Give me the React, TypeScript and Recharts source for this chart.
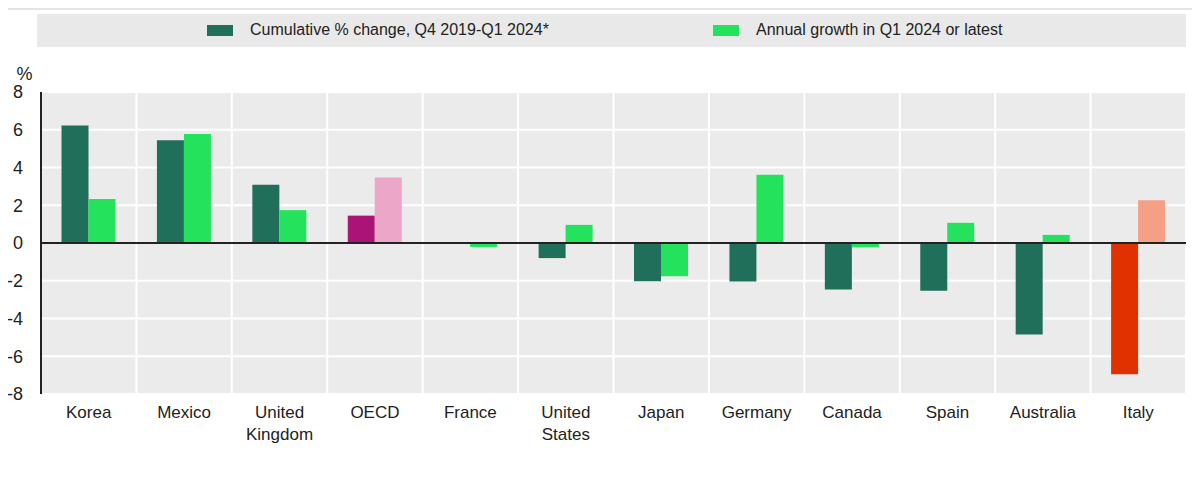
import React from "react";
import {
  Bar,
  BarChart,
  CartesianGrid,
  Cell,
  ReferenceLine,
  XAxis,
  YAxis,
} from "recharts";

const countries = [
  "Korea",
  "Mexico",
  "United Kingdom",
  "OECD",
  "France",
  "United States",
  "Japan",
  "Germany",
  "Canada",
  "Spain",
  "Australia",
  "Italy",
];
const cumulative = [6.22, 5.45, 3.08, 1.45, 0.05, -0.8, -2.02, -2.04, -2.47, -2.53, -4.85, -6.95];
const annual = [2.33, 5.78, 1.74, 3.47, -0.21, 0.96, -1.76, 3.62, -0.23, 1.07, 0.43, 2.27];
const yTicks = [-8, -6, -4, -2, 0, 2, 4, 6, 8];

const seriesNames = ["Cumulative % change, Q4 2019-Q1 2024*", "Annual growth in Q1 2024 or latest"];
const darkGreen = "#1f6f5a";
const lightGreen = "#24e25c";
// highlighted categories get their own pair of colours
const highlight: Record<string, [string, string]> = {
  OECD: ["#ab1477", "#eba6c8"],
  Italy: ["#e03200", "#f5a084"],
};

const data = countries.map((name, i) => ({
  name,
  cumulative: cumulative[i],
  annual: annual[i],
}));

const FONT = "'Liberation Sans', Arial, sans-serif";

const CountryTick = ({ x, y, payload }: any) => {
  const lines = String(payload.value).split(" ");
  return (
    <text x={x} y={y} textAnchor="middle" fill="#222" fontSize={17} fontFamily={FONT}>
      {lines.map((l, i) => (
        <tspan key={i} x={x} dy={i === 0 ? 24 : 22}>
          {l}
        </tspan>
      ))}
    </text>
  );
};

const App = () => {
  return (
    <div style={{ position: "relative", width: 1184, height: 467, fontFamily: FONT }}>
      <div
        style={{
          position: "absolute",
          left: -8,
          top: 0,
          width: 1200,
          height: 2,
          background: "#e4e4e4",
        }}
      />
      <div
        style={{
          position: "absolute",
          left: 29,
          top: 6,
          width: 1149,
          height: 33,
          background: "#e9e9e9",
        }}
      >
        {seriesNames.map((s, i) => (
          <div
            key={s}
            style={{
              position: "absolute",
              left: i === 0 ? 170 : 676,
              top: 7,
              display: "flex",
              alignItems: "center",
              fontSize: 16,
              color: "#222",
              whiteSpace: "nowrap",
            }}
          >
            <span
              style={{
                display: "inline-block",
                width: 26,
                height: 11,
                background: i === 0 ? darkGreen : lightGreen,
                marginRight: 17,
              }}
            />
            {s}
          </div>
        ))}
      </div>
      <BarChart
        width={1184}
        height={467}
        data={data}
        margin={{ top: 84, right: 6, bottom: 51, left: 0 }}
        barCategoryGap="21.5%"
        barGap={0}
      >
        <CartesianGrid
          fill="#ebebeb"
          stroke="#ffffff"
          strokeWidth={2}
          verticalCoordinatesGenerator={({ offset }: any) =>
            Array.from({ length: countries.length + 1 }, (_, i) => offset.left + (i * offset.width) / countries.length)
          }
        />
        <XAxis
          dataKey="name"
          axisLine={false}
          tickLine={false}
          tickSize={0}
          tickMargin={0}
          interval={0}
          height={30}
          tick={<CountryTick />}
        />
        <YAxis
          width={33}
          domain={[-8, 8]}
          ticks={yTicks}
          axisLine={{ stroke: "#222", strokeWidth: 2 }}
          tickLine={false}
          tickSize={0}
          tickMargin={18}
          tick={{ fill: "#222", fontSize: 18, fontFamily: FONT }}
          label={{ value: "%", position: "top", offset: 12, fill: "#222", fontSize: 18, fontFamily: FONT }}
        />
        <Bar dataKey="cumulative" name={seriesNames[0]} fill={darkGreen} isAnimationActive={false}>
          {data.map((d) => (
            <Cell key={d.name} fill={highlight[d.name] ? highlight[d.name][0] : darkGreen} />
          ))}
        </Bar>
        <Bar dataKey="annual" name={seriesNames[1]} fill={lightGreen} isAnimationActive={false}>
          {data.map((d) => (
            <Cell key={d.name} fill={highlight[d.name] ? highlight[d.name][1] : lightGreen} />
          ))}
        </Bar>
        <ReferenceLine y={0} stroke="#222" strokeWidth={2} />
      </BarChart>
    </div>
  );
};

export default App;
